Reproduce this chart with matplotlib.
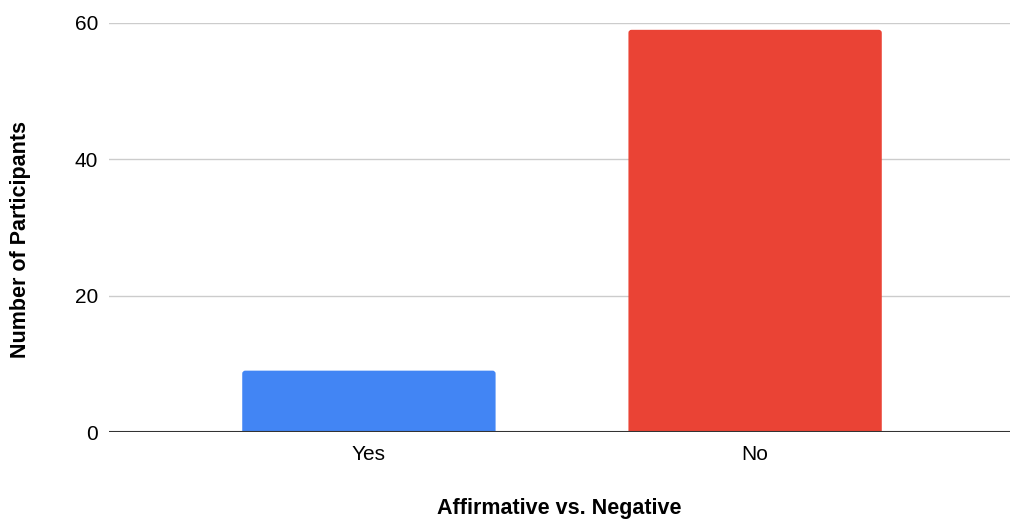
import matplotlib
matplotlib.use('Agg')
import matplotlib.pyplot as plt
from matplotlib.patches import FancyBboxPatch

plt.rcParams['font.family'] = ['Liberation Sans', 'DejaVu Sans']

categories = ['Yes', 'No']
participants = [9, 59]
bar_colors = ['#4285F4', '#EA4335']
y_ticks = [0, 20, 40, 60]

fig = plt.figure(figsize=(10.1, 5.25), dpi=100)
ax = fig.add_axes([109/1010, (525-432)/525, 1 - 109/1010, (432-23)/525])

width = 0.656
ax.set_xlim(-0.673, 1.66)
ax.set_ylim(0, 60)
# rounded tops; start a bit below zero so bottom corners are hidden
asp = (0.44) / 0.008
for i, (v, c) in enumerate(zip(participants, bar_colors)):
    p = FancyBboxPatch((i - width/2, -2), width, v + 2,
                       boxstyle='round,pad=0,rounding_size=0.008',
                       mutation_aspect=asp, fc=c, ec='none', zorder=2)
    ax.add_patch(p)

ax.set_yticks(y_ticks)
ax.set_xticks(range(len(categories)))
ax.set_xticklabels(categories)
ax.grid(axis='y', color='#cccccc', linewidth=1, zorder=0)
ax.axhline(0, color='#333333', linewidth=1.5, zorder=3)
for s in ax.spines.values():
    s.set_visible(False)
ax.tick_params(axis='both', length=0, labelsize=15, colors='black')
ax.tick_params(axis='y', pad=8)
ax.tick_params(axis='x', pad=9)

ax.set_ylabel('Number of Participants', fontsize=15.5, fontweight='bold', labelpad=31)
ax.yaxis.label.set_y(0.47)
ax.set_xlabel('Affirmative vs. Negative', fontsize=15.5, fontweight='bold', labelpad=25)

fig.savefig('out.png', dpi=100)
